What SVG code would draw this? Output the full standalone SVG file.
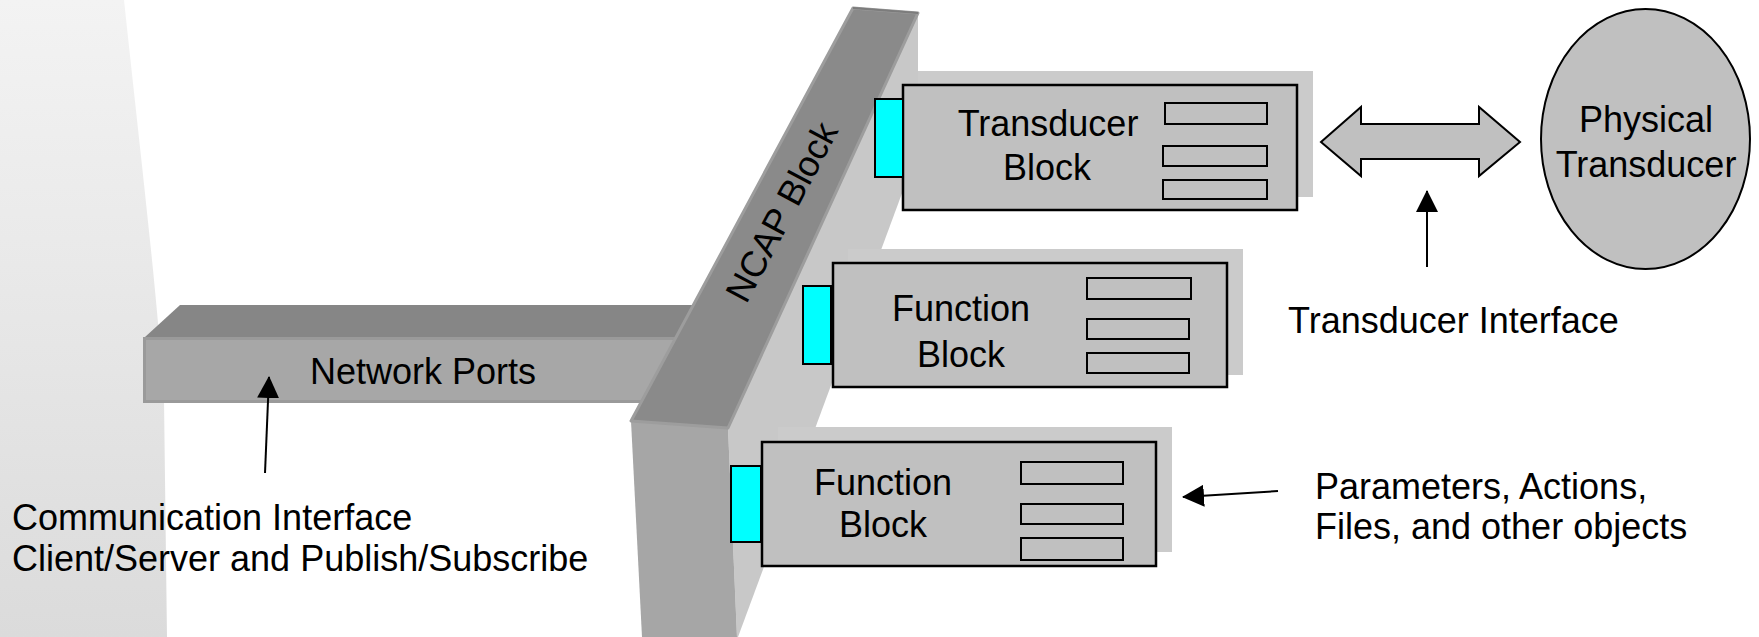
<svg xmlns="http://www.w3.org/2000/svg" width="1759" height="637" viewBox="0 0 1759 637">
  <defs>
    <linearGradient id="bgFade" x1="0" y1="0" x2="0" y2="1">
      <stop offset="0" stop-color="#f3f3f3"/>
      <stop offset="1" stop-color="#dbdbdb"/>
    </linearGradient>
    <marker id="head" markerUnits="userSpaceOnUse" markerWidth="22" markerHeight="22" viewBox="0 0 22 22" refX="21" refY="11" orient="auto">
      <path d="M0,0 L22,11 L0,22 Z" fill="#000"/>
    </marker>
  </defs>
  <style>
    text { font-family: "Liberation Sans", Arial, sans-serif; font-size: 36px; fill: #000; }
    .mid { text-anchor: middle; }
    .box { fill: #c0c0c0; stroke: #000; stroke-width: 2.5; }
    .shade { fill: #cbcbcb; }
    .slot { fill: #c0c0c0; stroke: #000; stroke-width: 2; }
    .port { fill: #00ffff; stroke: #000; stroke-width: 2; }
    .lead { stroke: #000; stroke-width: 2; fill: none; marker-end: url(#head); }
  </style>

  <!-- backdrop panel on the left -->
  <path d="M0,0 H124 C140,150 158,300 164,400 L167,637 H0 Z" fill="url(#bgFade)"/>

  <!-- network ports bar -->
  <g id="network-ports">
    <polygon points="145,337 180,305 722,305 702,337" fill="#868686"/>
    <rect x="144.5" y="338.5" width="560" height="63" fill="#a7a7a7" stroke="#9a9a9a" stroke-width="3"/>
    <text x="310" y="384">Network Ports</text>
  </g>

  <!-- NCAP slab -->
  <g id="ncap-block">
    <polygon points="918,13 918,150 738,637 737,637 728,428" fill="#c8c8c8"/>
    <polygon points="631,421 728,428 737,637 642,637" fill="#a6a6a6"/>
    <polygon points="853,8 918,13 728,428 631,421" fill="#8a8a8a" stroke="#9d9d9d" stroke-width="3" stroke-linejoin="round"/>
    <line x1="853" y1="8" x2="918" y2="13" stroke="#7c7c7c" stroke-width="2"/>
    <text class="mid" transform="translate(782,212) rotate(-62)" dy="12">NCAP Block</text>
  </g>

  <!-- transducer block -->
  <g id="transducer-block">
    <rect class="shade" x="918" y="71" width="395" height="126"/>
    <rect class="box" x="903" y="85" width="394" height="125"/>
    <rect class="port" x="875" y="99" width="28" height="78"/>
    <rect class="slot" x="1165" y="103" width="102" height="21"/>
    <rect class="slot" x="1163" y="146" width="104" height="20"/>
    <rect class="slot" x="1163" y="180" width="104" height="19"/>
    <text class="mid" x="1048" y="136">Transducer</text>
    <text class="mid" x="1047" y="180">Block</text>
  </g>

  <!-- function block (middle) -->
  <g id="function-block-1">
    <rect class="shade" x="848" y="249" width="395" height="126"/>
    <rect class="box" x="833" y="263" width="394" height="124"/>
    <rect class="port" x="803" y="286" width="28" height="78"/>
    <rect class="slot" x="1087" y="278" width="104" height="21"/>
    <rect class="slot" x="1087" y="319" width="102" height="20"/>
    <rect class="slot" x="1087" y="353" width="102" height="20"/>
    <text class="mid" x="961" y="321">Function</text>
    <text class="mid" x="961" y="367">Block</text>
  </g>

  <!-- function block (lower) -->
  <g id="function-block-2">
    <rect class="shade" x="778" y="427" width="394" height="125"/>
    <rect class="box" x="762" y="442" width="394" height="124"/>
    <rect class="port" x="731" y="466" width="30" height="76"/>
    <rect class="slot" x="1021" y="462" width="102" height="22"/>
    <rect class="slot" x="1021" y="504" width="102" height="20"/>
    <rect class="slot" x="1021" y="538" width="102" height="22"/>
    <text class="mid" x="883" y="495">Function</text>
    <text class="mid" x="883" y="537">Block</text>
  </g>

  <!-- physical transducer -->
  <g id="physical-transducer">
    <ellipse cx="1645.5" cy="139" rx="104.5" ry="130" fill="#c0c0c0" stroke="#000" stroke-width="2"/>
    <text class="mid" x="1646" y="132">Physical</text>
    <text class="mid" x="1646" y="177">Transducer</text>
  </g>

  <!-- connectors -->
  <g id="connectors">
    <polygon points="1321,142 1361,107 1361,124 1479,124 1479,107 1520,142 1479,176 1479,159 1361,159 1361,176" fill="#c0c0c0" stroke="#000" stroke-width="2" stroke-linejoin="miter"/>
    <line class="lead" x1="265" y1="473" x2="269" y2="377"/>
    <line class="lead" x1="1427" y1="267" x2="1427" y2="191"/>
    <line class="lead" x1="1278" y1="491" x2="1183" y2="497"/>
  </g>

  <!-- captions -->
  <g id="captions">
    <text x="1288" y="333">Transducer Interface</text>
    <text x="1315" y="499">Parameters, Actions,</text>
    <text x="1315" y="539">Files, and other objects</text>
    <text x="12" y="530">Communication Interface</text>
    <text x="12" y="571">Client/Server and Publish/Subscribe</text>
  </g>
</svg>
